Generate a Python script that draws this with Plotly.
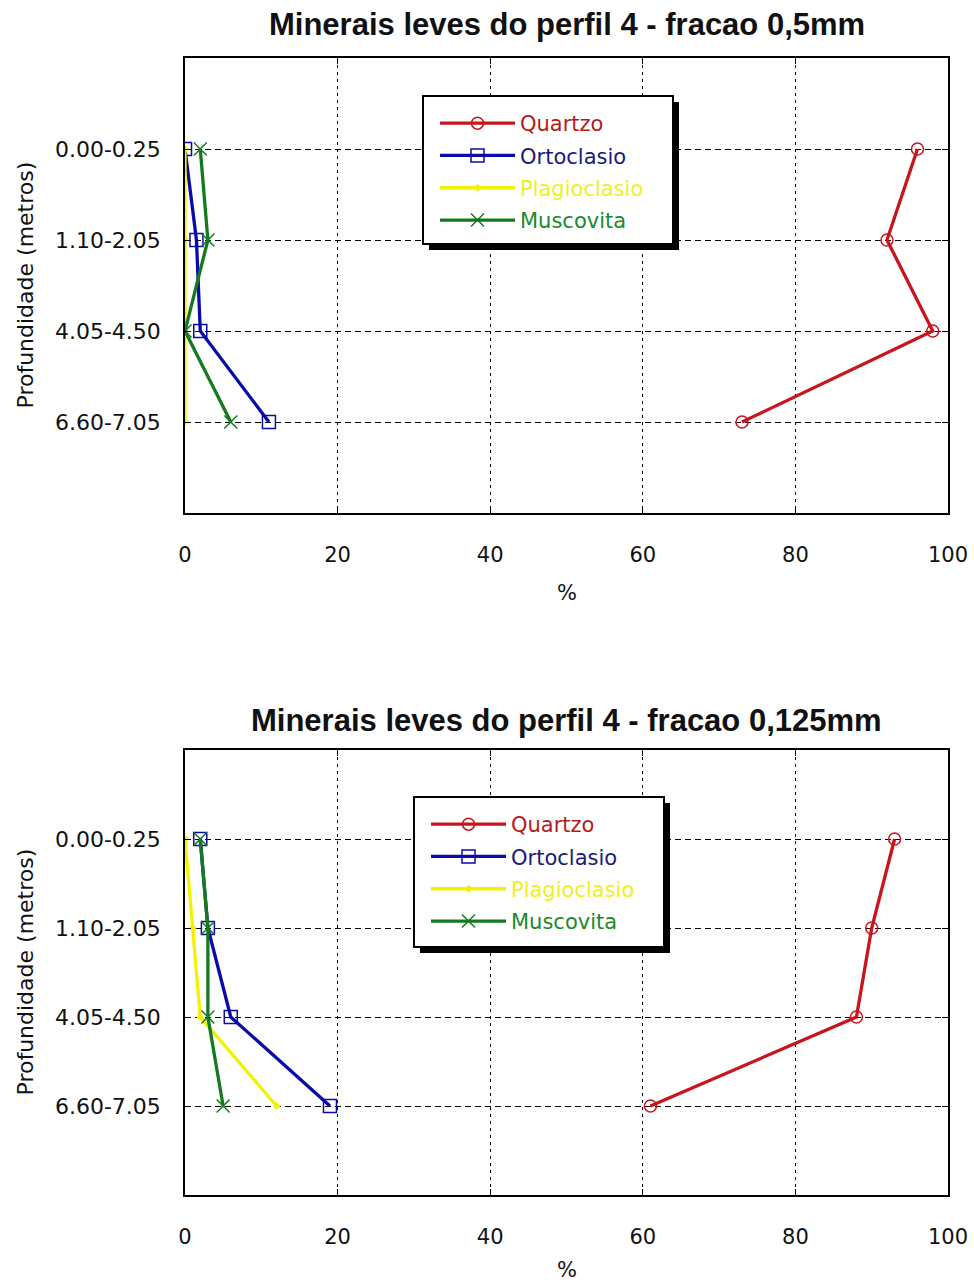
import plotly.graph_objects as go

# Depth intervals (metres) of profile 4
profundidades = ["0.00-0.25", "1.10-2.05", "4.05-4.50", "6.60-7.05"]

# Light minerals (%) - fraction 0.5 mm
quartzo_05 = [96, 92, 98, 73]
ortoclasio_05 = [0, 1.5, 2, 11]
plagioclasio_05 = [0, 0, 0, 0]
muscovita_05 = [2, 3, 0, 6]

# Light minerals (%) - fraction 0.125 mm
quartzo_0125 = [93, 90, 88, 61]
ortoclasio_0125 = [2, 3, 6, 19]
plagioclasio_0125 = [0, 1, 2, 12]
muscovita_0125 = [2, 3, 3, 5]

x_ticks = [0, 20, 40, 60, 80, 100]

W, H = 974, 1285
FONT = "DejaVu Sans"

cores = {
    "Quartzo": "#c8141c",
    "Ortoclasio": "#0a0aa8",
    "Plagioclasio": "#f2f200",
    "Muscovita": "#157a1f",
}
texto_legenda = {
    "Quartzo": "#b51a1a",
    "Ortoclasio": "#1a1a7a",
    "Plagioclasio": "#f0f020",
    "Muscovita": "#1a8a2a",
}
marcadores = {
    "Quartzo": dict(symbol="circle-open", size=12, line=dict(width=1.5)),
    "Ortoclasio": dict(symbol="square-open", size=13, line=dict(width=1.5)),
    "Plagioclasio": dict(symbol="diamond", size=6),
    "Muscovita": dict(symbol="x-thin-open", size=13, line=dict(width=1.5)),
}


def px_x(v):
    return v / W


def px_y(v):
    return 1 - v / H


fig = go.Figure()

paineis = [
    dict(series={"Quartzo": quartzo_05, "Ortoclasio": ortoclasio_05,
                 "Plagioclasio": plagioclasio_05, "Muscovita": muscovita_05},
         xa="x", ya="y", legend="legend", top=58, bottom=513,
         title="Minerais leves do perfil 4 - fracao 0,5mm", title_y=24,
         xlabel_y=593, box=(423, 96, 673, 244)),
    dict(series={"Quartzo": quartzo_0125, "Ortoclasio": ortoclasio_0125,
                 "Plagioclasio": plagioclasio_0125, "Muscovita": muscovita_0125},
         xa="x2", ya="y2", legend="legend2", top=750, bottom=1195,
         title="Minerais leves do perfil 4 - fracao 0,125mm", title_y=720,
         xlabel_y=1270, box=(414, 797, 664, 947)),
]

x_left, x_right = 185, 948
shapes = []
annotations = []

for i, p in enumerate(paineis):
    for nome, valores in p["series"].items():
        mk = dict(marcadores[nome])
        mk["color"] = cores[nome]
        if "line" in mk:
            mk["line"] = dict(mk["line"], color=cores[nome])
        fig.add_trace(go.Scatter(
            x=valores, y=profundidades, xaxis=p["xa"], yaxis=p["ya"],
            mode="lines+markers",
            name=f'<span style="color:{texto_legenda[nome]}">{nome}</span>',
            legendgroup=f"{p['legend']}-{nome}",
            legend=p["legend"],
            line=dict(color=cores[nome], width=3.3),
            marker=mk,
        ))

    dom_y = [px_y(p["bottom"]), px_y(p["top"])]
    sfx = "" if i == 0 else "2"
    fig.layout["xaxis" + sfx] = dict(
        domain=[px_x(x_left), px_x(x_right)], anchor="y" + sfx,
        range=[0, 100], tickvals=x_ticks, ticks="inside", ticklen=6,
        tickcolor="black", showline=True, linecolor="black", linewidth=1.5,
        mirror="ticks", showgrid=True, gridcolor="black", gridwidth=1.3,
        griddash="3px,4px", zeroline=False, ticklabelstandoff=22,
        tickfont=dict(family=FONT, size=21, color="#111"),
    )
    fig.layout["yaxis" + sfx] = dict(
        domain=dom_y, anchor="x" + sfx, type="category",
        categoryorder="array", categoryarray=profundidades,
        range=[4, -1], ticks="inside", ticklen=6, tickcolor="black",
        showline=True, linecolor="black", linewidth=1.5, mirror="ticks",
        showgrid=True, gridcolor="black", gridwidth=1.3, griddash="6px,4px",
        zeroline=False, ticklabelstandoff=18, layer="above traces",
        tickfont=dict(family=FONT, size=22, color="#111"),
    )

    # legend frame with drop shadow
    x0, y0, x1, y1 = p["box"]
    shapes.append(dict(type="rect", xref="paper", yref="paper", layer="above",
                       x0=px_x(x0 + 6), x1=px_x(x1 + 6), y0=px_y(y1 + 6), y1=px_y(y0 + 6),
                       fillcolor="black", line=dict(width=0)))
    shapes.append(dict(type="rect", xref="paper", yref="paper", layer="above",
                       x0=px_x(x0), x1=px_x(x1), y0=px_y(y1), y1=px_y(y0),
                       fillcolor="white", line=dict(color="black", width=2)))
    fig.layout[p["legend"]] = dict(
        x=px_x(x0 + 12), y=px_y(y0 + 7), xanchor="left", yanchor="top",
        bgcolor="rgba(0,0,0,0)", borderwidth=0, tracegroupgap=2,
        itemwidth=75, font=dict(family=FONT, size=21),
    )

    annotations.append(dict(text=f"<b>{p['title']}</b>", xref="paper", yref="paper",
                            x=px_x((x_left + x_right) / 2), y=px_y(p["title_y"]),
                            xanchor="center", yanchor="middle", showarrow=False,
                            font=dict(family="Liberation Sans", size=31, color="#111")))
    annotations.append(dict(text="%", xref="paper", yref="paper",
                            x=px_x((x_left + x_right) / 2), y=px_y(p["xlabel_y"]),
                            xanchor="center", yanchor="middle", showarrow=False,
                            font=dict(family=FONT, size=21, color="#111")))
    annotations.append(dict(text="Profundidade (metros)", xref="paper", yref="paper",
                            x=px_x(25), y=px_y((p["top"] + p["bottom"]) / 2),
                            xanchor="center", yanchor="middle", showarrow=False,
                            textangle=-90,
                            font=dict(family=FONT, size=22, color="#111")))

fig.update_layout(
    width=W, height=H,
    margin=dict(l=0, r=0, t=0, b=0, autoexpand=False),
    paper_bgcolor="white", plot_bgcolor="white",
    shapes=shapes, annotations=annotations, showlegend=True,
)

fig.write_html("out.html")
